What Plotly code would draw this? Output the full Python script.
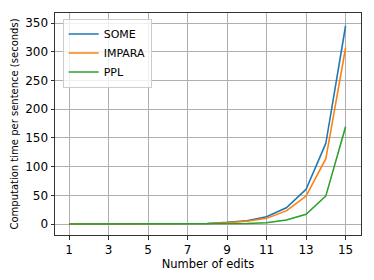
import plotly.graph_objects as go

edits = list(range(1, 16))
some = [0.05, 0.08, 0.1, 0.15, 0.2, 0.35, 0.6, 1.2, 3.0, 6.0, 12.7, 28.4, 60.4, 140.6, 345]
impara = [0.05, 0.07, 0.09, 0.13, 0.18, 0.3, 0.5, 1.0, 2.5, 5.0, 10.0, 23.0, 48.8, 114, 307]
ppl = [0.02, 0.03, 0.04, 0.05, 0.07, 0.1, 0.15, 0.3, 0.6, 1.2, 2.5, 7.0, 17.0, 49.0, 169.5]
series_names = ["SOME", "IMPARA", "PPL"]
colors = ["#1f77b4", "#ff7f0e", "#2ca02c"]
band_colors = ["rgba(31,119,180,0.25)", "rgba(255,127,14,0.25)", "rgba(44,160,44,0.25)"]
x_ticks = [1, 3, 5, 7, 9, 11, 13, 15]
y_ticks = [0, 50, 100, 150, 200, 250, 300, 350]

fig = go.Figure()
for name, vals, c, bc in zip(series_names, [some, impara, ppl], colors, band_colors):
    upper = [v * 1.03 + 0.5 for v in vals]
    lower = [v * 0.97 - 0.5 for v in vals]
    fig.add_trace(go.Scatter(x=edits, y=upper, mode="lines", line=dict(width=0), showlegend=False, hoverinfo="skip"))
    fig.add_trace(go.Scatter(x=edits, y=lower, mode="lines", line=dict(width=0), fill="tonexty",
                             fillcolor=bc, showlegend=False, hoverinfo="skip"))
    fig.add_trace(go.Scatter(x=edits, y=vals, mode="lines", name=name, line=dict(color=c, width=1.5)))

fig.update_layout(
    width=374, height=280,
    margin=dict(l=47, r=21, t=5, b=53),
    paper_bgcolor="white", plot_bgcolor="white",
    font=dict(family="DejaVu Sans", size=12, color="black"),
    legend=dict(x=0.025, y=0.975, xanchor="left", yanchor="top", traceorder="normal",
                bgcolor="rgba(255,255,255,0.8)", bordercolor="#cccccc", borderwidth=1,
                font=dict(size=11), itemwidth=30, tracegroupgap=0),
    xaxis=dict(range=[0.29, 15.78], tickvals=x_ticks, showgrid=True, gridcolor="#b0b0b0", gridwidth=0.8,
               showline=True, linecolor="#333333", linewidth=1, mirror=True,
               ticks="outside", ticklen=3.5, tickcolor="#333333", zeroline=False,
               tickfont=dict(size=12),
               title=dict(text="Number of edits", font=dict(size=11.5), standoff=3)),
    yaxis=dict(range=[-19, 367.6], tickvals=y_ticks, showgrid=True, gridcolor="#b0b0b0", gridwidth=0.8,
               showline=True, linecolor="#333333", linewidth=1, mirror=True,
               ticks="outside", ticklen=3.5, tickcolor="#333333", zeroline=False,
               tickfont=dict(size=12),
               title=dict(text="Computation time per sentence (seconds)", font=dict(size=10), standoff=4)),
)
fig.write_html("out.html")
